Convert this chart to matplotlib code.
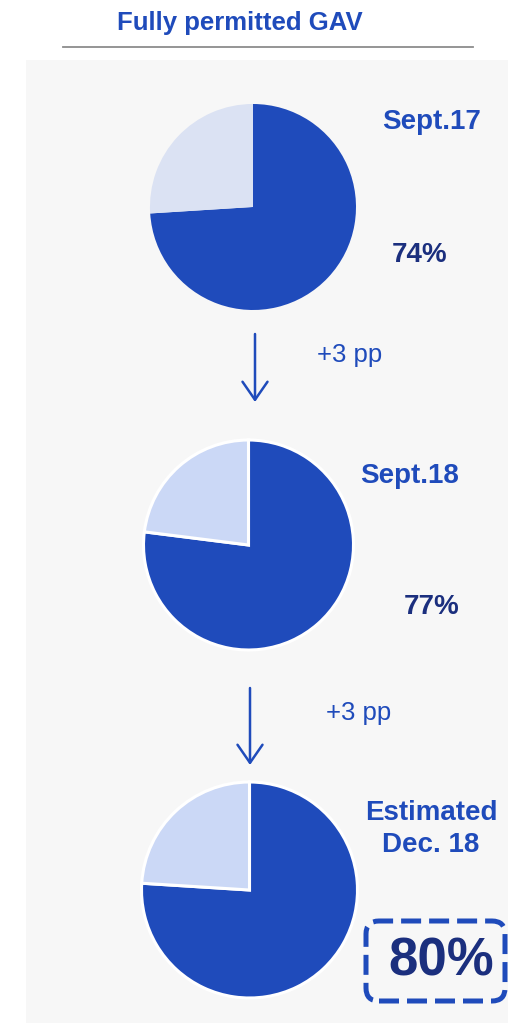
import matplotlib.pyplot as plt
from matplotlib.patches import FancyBboxPatch, Rectangle, FancyArrowPatch

plt.rcParams['font.family'] = ['Liberation Sans', 'DejaVu Sans']

# data
periods = ["Sept.17", "Sept.18", "Estimated\nDec. 18"]
permitted_share = [74, 77, 76]          # share as drawn in the pies
share_labels = ["74%", "77%", "80%"]
change_labels = ["+3 pp", "+3 pp"]

W, H = 508, 1023
BLUE = '#1f4bbb'
NAVY = '#1b2f7e'
LIGHT = ['#dbe2f3', '#cbd8f6', '#cbd8f6']

fig = plt.figure(figsize=(W / 100, H / 100), dpi=100)
ax = fig.add_axes([0, 0, 1, 1])


def py(y):
    # pixel row -> data y (y axis points up)
    return H - y


# grey panel and header
ax.add_patch(Rectangle((26, 0), W - 26, py(60), color='#f7f7f7', lw=0, zorder=0))
ax.text(240, py(23), "Fully permitted GAV", ha='center', va='center',
        fontsize=18.5, fontweight='bold', color=BLUE)
ax.plot([63, 473], [py(46.5), py(46.5)], color='#8c8c8c', lw=1.3)

# pies
centers = [(253, 207), (248.5, 545), (249.5, 890)]
radii = [103, 105, 108]
for i, share in enumerate(permitted_share):
    cx, cy = centers[i]
    if i == 0:
        ax.pie([share, 100 - share], colors=[BLUE, LIGHT[i]], startangle=90,
               counterclock=False, center=(cx, py(cy)), radius=radii[i],
               explode=[0, 0.05], frame=True,
               wedgeprops=dict(linewidth=0))
    else:
        ax.pie([share, 100 - share], colors=[BLUE, LIGHT[i]], startangle=90,
               counterclock=False, center=(cx, py(cy)), radius=radii[i],
               frame=True, wedgeprops=dict(edgecolor='white', linewidth=2.2))

# period labels and shares
period_pos = [(432, 122), (410, 476), (431, 829)]
share_pos = [(420, 255), (432, 607)]
for label, (x, y) in zip(periods, period_pos):
    ax.text(x, py(y), label, ha='center', va='center', fontsize=20,
            fontweight='bold', color=BLUE, linespacing=1.25)
for label, (x, y) in zip(share_labels[:2], share_pos):
    ax.text(x, py(y), label, ha='center', va='center', fontsize=20,
            fontweight='bold', color=NAVY)

# highlighted estimate
ax.add_patch(FancyBboxPatch((366, py(1001)), 139, 80,
                            boxstyle="round,pad=0,rounding_size=13",
                            fill=False, edgecolor=BLUE, lw=3.6,
                            linestyle=(0, (4, 1.6)), zorder=3))
ax.text(441, py(962), share_labels[2], ha='center', va='center', fontsize=38,
        fontweight='bold', color=NAVY, zorder=4)

# arrows with change labels
arrows = [(255, 334, 402), (250, 688, 765)]
change_pos = [(350, 355), (359, 713)]
for (x, y0, y1), label, (tx, ty) in zip(arrows, change_labels, change_pos):
    ax.add_patch(FancyArrowPatch((x, py(y0)), (x, py(y1)),
                                 arrowstyle='->,head_length=0.65,head_width=0.45',
                                 mutation_scale=20, color=BLUE, lw=1.8,
                                 shrinkA=0, shrinkB=0))
    ax.text(tx, py(ty), label, ha='center', va='center', fontsize=18.5,
            color=BLUE)

ax.set_xlim(0, W)
ax.set_ylim(0, H)
ax.set_aspect('auto')
ax.axis('off')

fig.savefig('out.png', dpi=100, facecolor='white')
